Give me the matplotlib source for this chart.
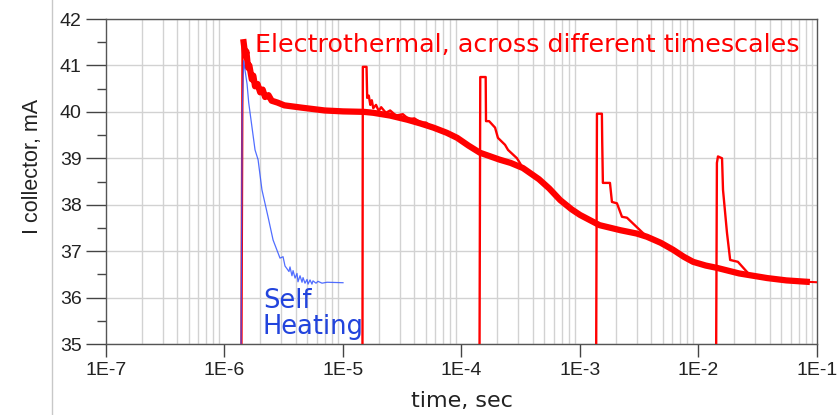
import matplotlib.pyplot as plt
from matplotlib.ticker import LogLocator, MultipleLocator
from matplotlib.lines import Line2D

# thick electrothermal envelope
env_t = [1.45e-6, 1.50e-6, 1.53e-6, 1.58e-6, 1.62e-6, 1.70e-6, 1.75e-6, 1.81e-6, 1.90e-6,
         2.0e-6, 2.1e-6, 2.2e-6, 2.35e-6, 2.5e-6, 2.8e-6, 3.2e-6, 4.5e-6, 7e-6, 1.0e-5,
         1.5e-5, 1.8e-5, 2.5e-5, 3.5e-5, 4.5e-5, 5.8e-5, 7.5e-5, 9.2e-5, 1.15e-4, 1.43e-4,
         2.1e-4, 2.6e-4, 3.3e-4, 4.5e-4, 5.5e-4, 6.8e-4, 8.5e-4, 1.0e-3, 1.46e-3, 2.2e-3,
         3.0e-3, 3.67e-3, 4.8e-3, 6.1e-3, 7.5e-3, 9.0e-3, 1.15e-2, 1.43e-2, 2.2e-2, 3.8e-2,
         5.5e-2, 8.2e-2]
env_i = [41.50, 41.20, 41.30, 40.95, 41.00, 40.70, 40.78, 40.55, 40.60,
         40.42, 40.48, 40.32, 40.36, 40.24, 40.20, 40.14, 40.09, 40.03, 40.01,
         40.00, 39.98, 39.92, 39.83, 39.75, 39.66, 39.55, 39.44, 39.27, 39.12,
         38.97, 38.90, 38.79, 38.55, 38.35, 38.10, 37.90, 37.78, 37.56, 37.45,
         37.38, 37.31, 37.18, 37.03, 36.88, 36.77, 36.69, 36.64, 36.52, 36.42,
         36.37, 36.34]
tail_t = [8.2e-2, 1e-1]
tail_i = [36.34, 36.33]

# pulses at each timescale
sp1_t = [1.39e-6, 1.42e-6, 1.45e-6]
sp1_i = [35.0, 41.5, 41.5]
sp2_t = [1.46e-5, 1.47e-5, 1.58e-5, 1.60e-5, 1.65e-5, 1.70e-5, 1.75e-5, 1.8e-5, 1.9e-5,
         2.0e-5, 2.1e-5, 2.3e-5, 2.5e-5, 2.8e-5, 3.2e-5, 3.6e-5, 4.0e-5, 4.6e-5, 5.0e-5, 5.8e-5]
sp2_i = [35.0, 40.97, 40.97, 40.30, 40.35, 40.15, 40.25, 40.08, 40.15,
         40.02, 40.10, 39.98, 40.03, 39.92, 39.95, 39.84, 39.86, 39.76, 39.77, 39.66]
sp3_t = [1.42e-4, 1.44e-4, 1.60e-4, 1.61e-4, 1.71e-4, 1.92e-4, 2.03e-4, 2.33e-4, 2.47e-4,
         2.94e-4, 3.3e-4]
sp3_i = [35.0, 40.75, 40.75, 39.80, 39.80, 39.66, 39.44, 39.29, 39.18, 39.0, 38.79]
sp4_t = [1.37e-3, 1.39e-3, 1.53e-3, 1.54e-3, 1.56e-3, 1.79e-3, 1.86e-3, 2.05e-3, 2.26e-3,
         2.49e-3, 3.67e-3]
sp4_i = [35.0, 39.96, 39.96, 39.35, 38.47, 38.47, 38.06, 38.03, 37.74, 37.72, 37.31]
sp5_t = [1.41e-2, 1.43e-2, 1.46e-2, 1.58e-2, 1.61e-2, 1.74e-2, 1.85e-2, 2.15e-2, 2.57e-2]
sp5_i = [35.0, 38.9, 39.04, 39.0, 38.32, 37.39, 36.81, 36.77, 36.55]

# self heating only
sh_t = [1.38e-6, 1.41e-6, 1.45e-6, 1.55e-6, 1.60e-6, 1.81e-6, 1.92e-6, 2.07e-6, 2.33e-6,
        2.57e-6, 2.94e-6, 3.12e-6, 3.24e-6, 3.37e-6, 3.50e-6, 3.57e-6, 3.71e-6, 3.79e-6,
        3.94e-6, 4.09e-6, 4.17e-6, 4.34e-6, 4.51e-6, 4.60e-6, 4.78e-6, 4.97e-6, 5.07e-6,
        5.27e-6, 5.47e-6, 5.58e-6, 5.92e-6, 6.15e-6, 6.65e-6, 7.33e-6, 1.0e-5]
sh_i = [35.0, 40.0, 41.1, 40.6, 40.2, 39.18, 38.97, 38.32, 37.74,
        37.24, 36.85, 36.88, 36.68, 36.62, 36.56, 36.66, 36.47, 36.58,
        36.42, 36.52, 36.34, 36.47, 36.33, 36.43, 36.31, 36.39, 36.29,
        36.38, 36.29, 36.36, 36.31, 36.35, 36.31, 36.33, 36.32]

xticks = [1e-7, 1e-6, 1e-5, 1e-4, 1e-3, 1e-2, 1e-1]
xlabels = ['1E-7', '1E-6', '1E-5', '1E-4', '1E-3', '1E-2', '1E-1']
yticks = [35, 36, 37, 38, 39, 40, 41, 42]

red = '#ff0000'
fig = plt.figure(figsize=(8.4, 4.15), dpi=100)
plt.rcParams['font.family'] = ['Liberation Sans', 'DejaVu Sans']
ax = fig.add_axes([106 / 840, 1 - 344 / 415, (817 - 106) / 840, (344 - 19) / 415])

ax.plot(env_t, env_i, color=red, lw=4.5, solid_joinstyle='round', zorder=3)
ax.plot(tail_t, tail_i, color=red, lw=1.5, zorder=3)
for t, i in [(sp1_t, sp1_i), (sp2_t, sp2_i), (sp3_t, sp3_i), (sp4_t, sp4_i), (sp5_t, sp5_i)]:
    ax.plot(t, i, color=red, lw=1.7, zorder=3)
ax.plot(sh_t, sh_i, color='#3355ff', lw=0.9, alpha=0.85, zorder=4)

ax.set_xscale('log')
ax.set_xlim(1e-7, 1e-1)
ax.set_ylim(35, 42)
ax.set_xticks(xticks)
ax.set_xticklabels(xlabels)
ax.set_yticks(yticks)
ax.xaxis.set_minor_locator(LogLocator(base=10, subs=range(2, 10), numticks=20))
ax.yaxis.set_minor_locator(MultipleLocator(0.5))
ax.grid(which='minor', axis='x', color='#d2d2d2', lw=1)
ax.grid(which='major', axis='y', color='#d2d2d2', lw=1)
ax.tick_params(axis='x', which='minor', length=0)
ax.tick_params(axis='x', which='major', length=9, width=1, color='#444444',
               labelsize=14, pad=4, labelcolor='#222222')
ax.tick_params(axis='y', which='major', length=14.5, width=1, color='#444444',
               labelsize=14, pad=3, labelcolor='#222222')
ax.tick_params(axis='y', which='minor', length=6.5, width=1, color='#444444')
for s in ax.spines.values():
    s.set_color('#555555')
    s.set_linewidth(1)
ax.set_axisbelow(True)

ax.set_xlabel('time, sec', fontsize=16, family='DejaVu Sans', color='#222222')
ax.xaxis.set_label_coords(0.5, -0.145)
ax.set_ylabel('I collector, mA', fontsize=15.5, color='#222222')
ax.yaxis.set_label_coords(-0.088, 0.545)

ax.text(1.81e-6, 41.45, 'Electrothermal, across different timescales', color=red,
        fontsize=18.3, family='DejaVu Sans', ha='left', va='center')
ax.text(2.11e-6, 35.65, 'Self\nHeating', color='#2244dd', fontsize=18.5,
        family='DejaVu Sans', ha='left', va='center', linespacing=1.0)

fig.add_artist(Line2D([52 / 840, 52 / 840], [0, 1], color='#c8c8c8', lw=1))

fig.savefig('out.png', dpi=100)
